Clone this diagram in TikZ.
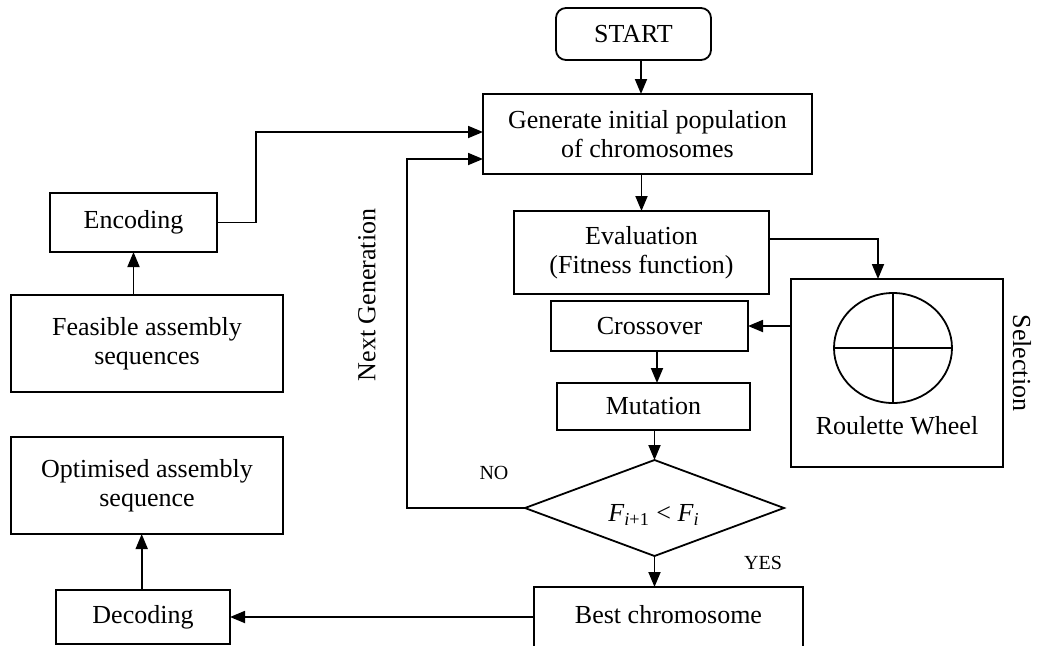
\documentclass[tikz,border=0pt]{standalone}
\usepackage{fontspec}
\setmainfont{Liberation Serif}
\usetikzlibrary{arrows.meta,shapes.geometric}
\begin{document}
\begin{tikzpicture}[x=0.5pt,y=-0.5pt,
  every node/.style={inner sep=0pt,outer sep=0pt,align=center,font=\fontsize{13}{14.5}\selectfont},
  box/.style={draw,line width=0.9pt,rectangle},
  arr/.style={line width=0.9pt,-{Triangle[length=7.5pt,width=6pt]}},
  conn/.style={line width=0.9pt},
  small/.style={font=\fontsize{10}{12}\selectfont}]
\useasboundingbox (0,0) rectangle (1041,645);
\clip (0,0) rectangle (1041,645);

% main loop of the genetic algorithm
\node[box,rounded corners=5pt,minimum width=77.5pt,minimum height=26pt] (start) at (633.5,34) {START};
\node[box,minimum width=164.5pt,minimum height=40pt] (gen) at (647.5,134) {Generate initial population\\of chromosomes};
\node[box,minimum width=127.5pt,minimum height=41.5pt] (eval) at (641.5,252.5) {Evaluation\\(Fitness function)};
\node[box,minimum width=106pt,minimum height=94pt] (sel) at (897,373) {};
\node[box,minimum width=98.5pt,minimum height=25pt] (cross) at (649.5,326) {Crossover};
\node[box,minimum width=96.5pt,minimum height=23.5pt] (mut) at (653.5,406.5) {Mutation};
\node[draw,line width=0.9pt,diamond,minimum width=129.5pt,minimum height=48pt] (dec) at (654.5,508) {};
\node (cond) at (654,515) {\textit{F}\textsubscript{\textit{i}+1} < \textit{F}\textsubscript{\textit{i}}};
\node[box,minimum width=134.5pt,minimum height=39pt] (best) at (668.5,626) {};
\node (besttxt) at (668.5,615) {Best chromosome};

% left column
\node[box,minimum width=83.5pt,minimum height=29.5pt] (enc) at (133.5,222.5) {Encoding};
\node[box,minimum width=136pt,minimum height=48.5pt] (feas) at (147,343.5) {Feasible assembly\\sequences};
\node[box,minimum width=136pt,minimum height=48.5pt] (opt) at (147,485.5) {Optimised assembly\\sequence};
\node[box,minimum width=87pt,minimum height=27pt] (decod) at (143,617) {Decoding};

% roulette wheel inside the selection box
\coordinate (wheel) at (893,348);
\draw[conn] (wheel) ellipse [x radius=29.5pt,y radius=27.5pt];
\draw[conn] ([xshift=-29.5pt]wheel) -- ([xshift=29.5pt]wheel);
\draw[conn] ([yshift=-27.5pt]wheel) -- ([yshift=27.5pt]wheel);
\node (rw) at (897,426) {Roulette Wheel};
\node[rotate=-90] (sellab) at (1022,363) {Selection};

% labels
\node[rotate=90] (nglab) at (367,295) {Next Generation};
\node[small] (no) at (494,473) {NO};
\node[small] (yes) at (763,563) {YES};

% connectors
\draw[arr] ([xshift=-3.25pt]gen.north |- start.south) -- ([xshift=-3.25pt]gen.north);
\draw[arr] (eval.north |- gen.south) -- (eval.north);
\draw[arr] ([yshift=6.75pt]eval.east) -| ([xshift=-9.5pt]sel.north);
\draw[arr] (sel.west |- cross.east) -- (cross.east);
\draw[arr] ([xshift=1.75pt]mut.north |- cross.south) -- ([xshift=1.75pt]mut.north);
\draw[arr] (dec.north |- mut.south) -- (dec.north);
\draw[arr] (dec.south) -- (dec.south |- best.north);
\coordinate (ng) at (407,159);
\draw[arr] (dec.west) -| (ng) -- (ng -| gen.west);
\coordinate (eb) at (256,132);
\draw[arr] (enc.east) -| (eb) -- (eb -| gen.west);
\draw[arr] (enc.south |- feas.north) -- (enc.south);
\draw[arr] (best.west |- decod.east) -- (decod.east);
\draw[arr] ([xshift=-0.65pt]decod.north) -- ([xshift=-0.65pt]decod.north |- opt.south);
\end{tikzpicture}
\end{document}
